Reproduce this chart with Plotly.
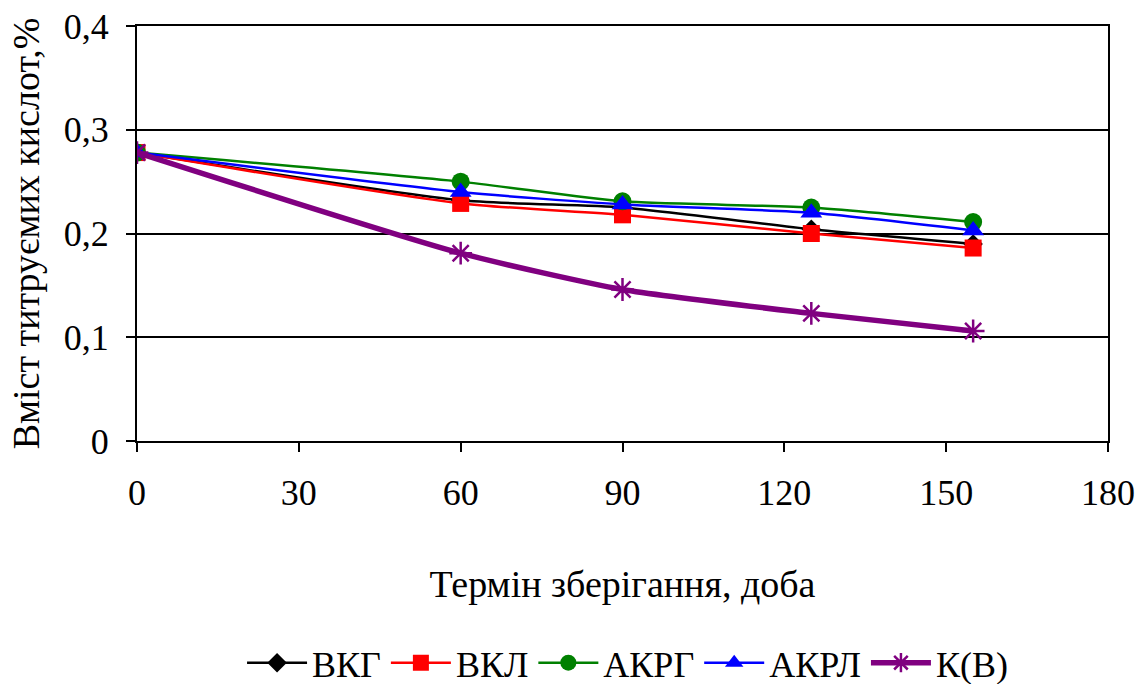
import plotly.graph_objects as go

days = [0, 60, 90, 125, 155]
vkg = [0.278, 0.232, 0.225, 0.204, 0.190]
vkl = [0.278, 0.229, 0.218, 0.200, 0.186]
akrg = [0.278, 0.250, 0.231, 0.225, 0.211]
akrl = [0.278, 0.240, 0.228, 0.220, 0.203]
kv = [0.278, 0.181, 0.146, 0.123, 0.106]

x_ticks = [0, 30, 60, 90, 120, 150, 180]
y_ticks = [0, 0.1, 0.2, 0.3, 0.4]
y_labels = ["0", "0,1", "0,2", "0,3", "0,4"]

FONT = "Liberation Serif"

series = [
    ("ВКГ", vkg, "black", "diamond", 15, 2.5),
    ("ВКЛ", vkl, "red", "square", 17, 2.5),
    ("АКРГ", akrg, "green", "circle", 18, 2.5),
    ("АКРЛ", akrl, "blue", "triangle-up", 19, 2.5),
    ("К(В)", kv, "purple", "asterisk-open", 19, 5.5),
]

fig = go.Figure()
for name, vals, color, sym, size, lw in series:
    marker = dict(symbol=sym, size=size, color=color)
    if sym == "asterisk-open":
        marker["line"] = dict(color=color, width=2.5)
    fig.add_trace(go.Scatter(
        x=days, y=vals, name=name, mode="lines+markers",
        line=dict(color=color, width=lw, shape="spline", smoothing=0.6),
        marker=marker,
    ))

fig.update_layout(
    width=1141, height=684,
    margin=dict(l=137, r=33, t=26, b=243, autoexpand=False),
    paper_bgcolor="white", plot_bgcolor="white",
    font=dict(family=FONT, size=36, color="black"),
    showlegend=True,
    legend=dict(orientation="h", x=0.55, xanchor="center", xref="container",
                y=0.031, yanchor="middle", yref="container",
                font=dict(family=FONT, size=36), itemwidth=60, tracegroupgap=0),
    xaxis=dict(
        range=[0, 180], tickvals=x_ticks, ticktext=[str(v) for v in x_ticks],
        showline=True, linecolor="black", linewidth=2, mirror=True,
        ticks="outside", ticklen=9, tickcolor="black", tickwidth=2,
        ticklabelstandoff=10, automargin=False,
        showgrid=False, zeroline=False,
        title=dict(text="Термін зберігання, доба", font=dict(family=FONT, size=38), standoff=58),
        tickfont=dict(family=FONT, size=36),
    ),
    yaxis=dict(
        range=[0, 0.4], tickvals=y_ticks, ticktext=y_labels,
        showline=True, linecolor="black", linewidth=2, mirror=True,
        ticks="outside", ticklen=9, tickcolor="black", tickwidth=2,
        ticklabelstandoff=10, automargin=False,
        showgrid=True, gridcolor="black", gridwidth=2, zeroline=False,
        title=dict(text="Вміст титруємих кислот,%", font=dict(family=FONT, size=38), standoff=12),
        tickfont=dict(family=FONT, size=36),
    ),
)

fig.write_html("out.html")
